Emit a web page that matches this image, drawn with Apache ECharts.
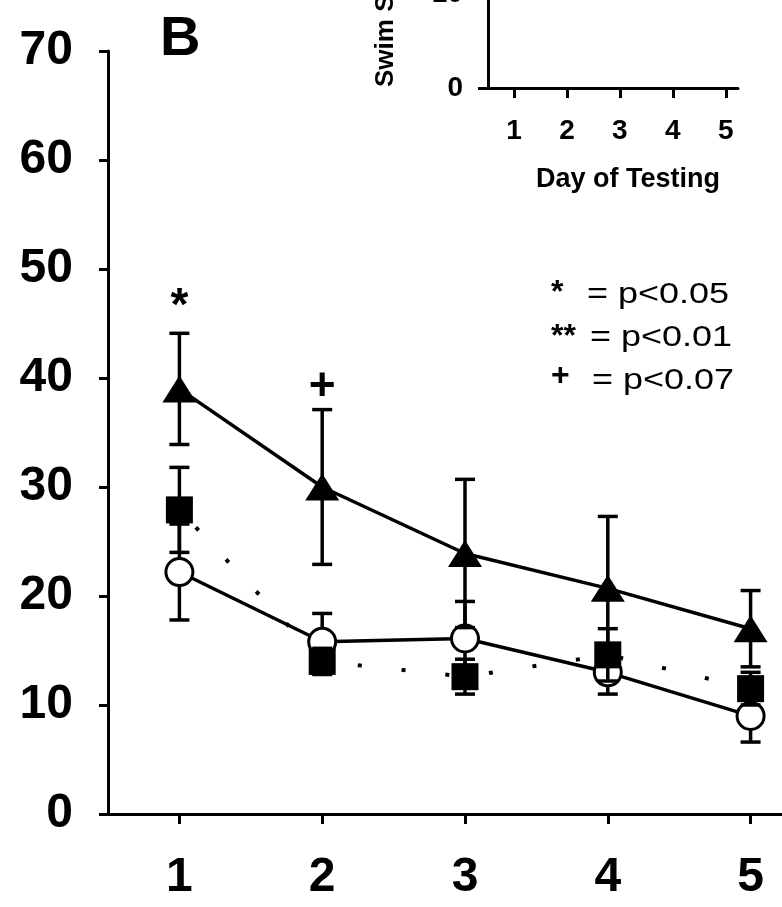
<!DOCTYPE html>
<html>
<head>
<meta charset="utf-8">
<script src="https://cdn.jsdelivr.net/npm/echarts@6/dist/echarts.min.js"></script>
<style>
  html, body { margin: 0; padding: 0; background: #fff; }
  #chart { width: 782px; height: 907px; }
</style>
</head>
<body>
<div id="chart"></div>
<script>
// day of testing
var days = [1, 2, 3, 4, 5];
var dayLabels = ['1', '2', '3', '4', '5'];

// filled triangles, solid line
var triMean = [39.0, 30.0, 23.9, 20.7, 17.0];
var triSem = [5.1, 7.1, 6.8, 6.6, 3.5];
// filled squares, dotted line
var sqMean = [27.9, 14.0, 12.6, 14.6, 11.5];
var sqSem = [3.9, 1.2, 1.6, 2.4, 1.5];
// open circles, solid line
var circMean = [22.2, 15.8, 16.1, 13.0, 9.0];
var circSem = [4.4, 2.6, 3.4, 2.0, 2.4];

// significance marks [day, y, mark]
var sigMarks = [[1, 46.5, '*'], [2, 39.1, '+']];
var keySymbols = ['*', '**', '+'];
var keyTexts = ['= p<0.05', '= p<0.01', '= p<0.07'];

var FONT = '"Liberation Sans", Arial, Helvetica, sans-serif';

function pairs(mean) {
  return days.map(function (d, i) { return [d, mean[i]]; });
}

function errorBars(mean, sem, z) {
  return {
    type: 'custom',
    xAxisIndex: 0,
    yAxisIndex: 0,
    z: z,
    silent: true,
    encode: { x: 0, y: [1, 2] },
    data: days.map(function (d, i) { return [d, mean[i] - sem[i], mean[i] + sem[i]]; }),
    renderItem: function (params, api) {
      var lo = api.coord([api.value(0), api.value(1)]);
      var hi = api.coord([api.value(0), api.value(2)]);
      var w = 10;
      var st = { stroke: '#000', lineWidth: 3.5 };
      return {
        type: 'group',
        children: [
          { type: 'line', shape: { x1: lo[0], y1: lo[1], x2: hi[0], y2: hi[1] }, style: st },
          { type: 'line', shape: { x1: lo[0] - w, y1: lo[1], x2: lo[0] + w, y2: lo[1] }, style: st },
          { type: 'line', shape: { x1: hi[0] - w, y1: hi[1], x2: hi[0] + w, y2: hi[1] }, style: st }
        ]
      };
    }
  };
}

var graphics = [
  { type: 'text', left: 160, top: 12, style: { text: 'B', font: 'bold 56px ' + FONT, fill: '#000' } },
  {
    type: 'text', x: 386, y: 87, rotation: Math.PI / 2,
    style: { text: 'Swim Speed (cm/s)', font: 'bold 26px ' + FONT, fill: '#000', textAlign: 'left', textVerticalAlign: 'middle' }
  },
  {
    type: 'text', x: 628, y: 180,
    style: { text: 'Day of Testing', font: 'bold 27px ' + FONT, fill: '#000', textAlign: 'center', textVerticalAlign: 'middle' }
  }
];
var keyY = [295, 338, 381];
var keySymY = [293, 337, 376];
var keyX = [587, 590, 592];
keySymbols.forEach(function (s, i) {
  graphics.push({
    type: 'text', x: 551, y: keySymY[i],
    style: { text: s, font: 'bold 32px ' + FONT, fill: '#000', textAlign: 'left', textVerticalAlign: 'middle' }
  });
  graphics.push({
    type: 'text', x: keyX[i], y: keyY[i], scaleY: 0.8,
    style: { text: keyTexts[i], font: '36px ' + FONT, fill: '#000', textAlign: 'left', textVerticalAlign: 'middle' }
  });
});

var axisLine = { show: true, lineStyle: { color: '#000', width: 3 } };

var option = {
  animation: false,
  backgroundColor: '#fff',
  grid: [
    { left: 108, right: 0, top: 51, bottom: 93, outerBoundsMode: 'none' },
    { left: 488, top: -100, width: 250, height: 188, outerBoundsMode: 'none' }
  ],
  xAxis: [
    {
      type: 'value', gridIndex: 0, min: 0.5, max: 5.22,
      axisLine: axisLine,
      axisTick: { show: true, length: 10, lineStyle: { width: 3, color: '#000' }, customValues: days },
      axisLabel: {
        customValues: days, margin: 40, color: '#000',
        fontFamily: FONT, fontWeight: 'bold', fontSize: 48,
        formatter: function (v) { return dayLabels[days.indexOf(v)]; }
      },
      splitLine: { show: false }
    },
    {
      type: 'value', gridIndex: 1, min: 0.51, max: 5.23,
      axisLine: axisLine,
      axisTick: { show: true, length: 10, lineStyle: { width: 3, color: '#000' }, customValues: days },
      axisLabel: {
        customValues: days, margin: 29, color: '#000',
        fontFamily: FONT, fontWeight: 'bold', fontSize: 28,
        formatter: function (v) { return dayLabels[days.indexOf(v)]; }
      },
      splitLine: { show: false }
    }
  ],
  yAxis: [
    {
      type: 'value', gridIndex: 0, min: 0, max: 70, interval: 10,
      axisLine: axisLine,
      axisTick: { show: true, length: 9, lineStyle: { width: 3, color: '#000' } },
      axisLabel: { margin: 35, color: '#000', fontFamily: FONT, fontWeight: 'bold', fontSize: 48 },
      splitLine: { show: false }
    },
    {
      type: 'value', gridIndex: 1, min: 0, max: 20, interval: 10,
      axisLine: axisLine,
      axisTick: { show: true, length: 10, lineStyle: { width: 3, color: '#000' } },
      axisLabel: { margin: 25, color: '#000', fontFamily: FONT, fontWeight: 'bold', fontSize: 28 },
      splitLine: { show: false }
    }
  ],
  graphic: graphics,
  series: [
    errorBars(circMean, circSem, 2),
    {
      type: 'line', name: 'circles', z: 3, data: pairs(circMean),
      symbol: 'circle', symbolSize: 27,
      itemStyle: { color: '#fff', borderColor: '#000', borderWidth: 3 },
      lineStyle: { color: '#000', width: 3.5 }
    },
    errorBars(sqMean, sqSem, 4),
    {
      type: 'line', name: 'squares', z: 5, data: pairs(sqMean),
      symbol: 'rect', symbolSize: 27,
      itemStyle: { color: '#000' },
      lineStyle: { color: '#000', width: 4, type: [4, 40], dashOffset: -24 }
    },
    errorBars(triMean, triSem, 6),
    {
      type: 'line', name: 'triangles', z: 7, data: pairs(triMean),
      symbol: 'triangle', symbolSize: [34, 27],
      itemStyle: { color: '#000' },
      lineStyle: { color: '#000', width: 3.5 }
    },
    {
      // significance marks above the points
      type: 'custom', z: 8, silent: true, data: sigMarks,
      encode: { x: 0, y: 1 },
      renderItem: function (params, api) {
        var p = api.coord([api.value(0), api.value(1)]);
        return {
          type: 'text', x: p[0], y: p[1],
          style: {
            text: sigMarks[params.dataIndex][2], fill: '#000',
            font: 'bold 46px ' + FONT, textAlign: 'center', textVerticalAlign: 'middle'
          }
        };
      }
    }
  ]
};

var myChart = echarts.init(document.getElementById('chart'));
myChart.setOption(option);
</script>
</body>
</html>
